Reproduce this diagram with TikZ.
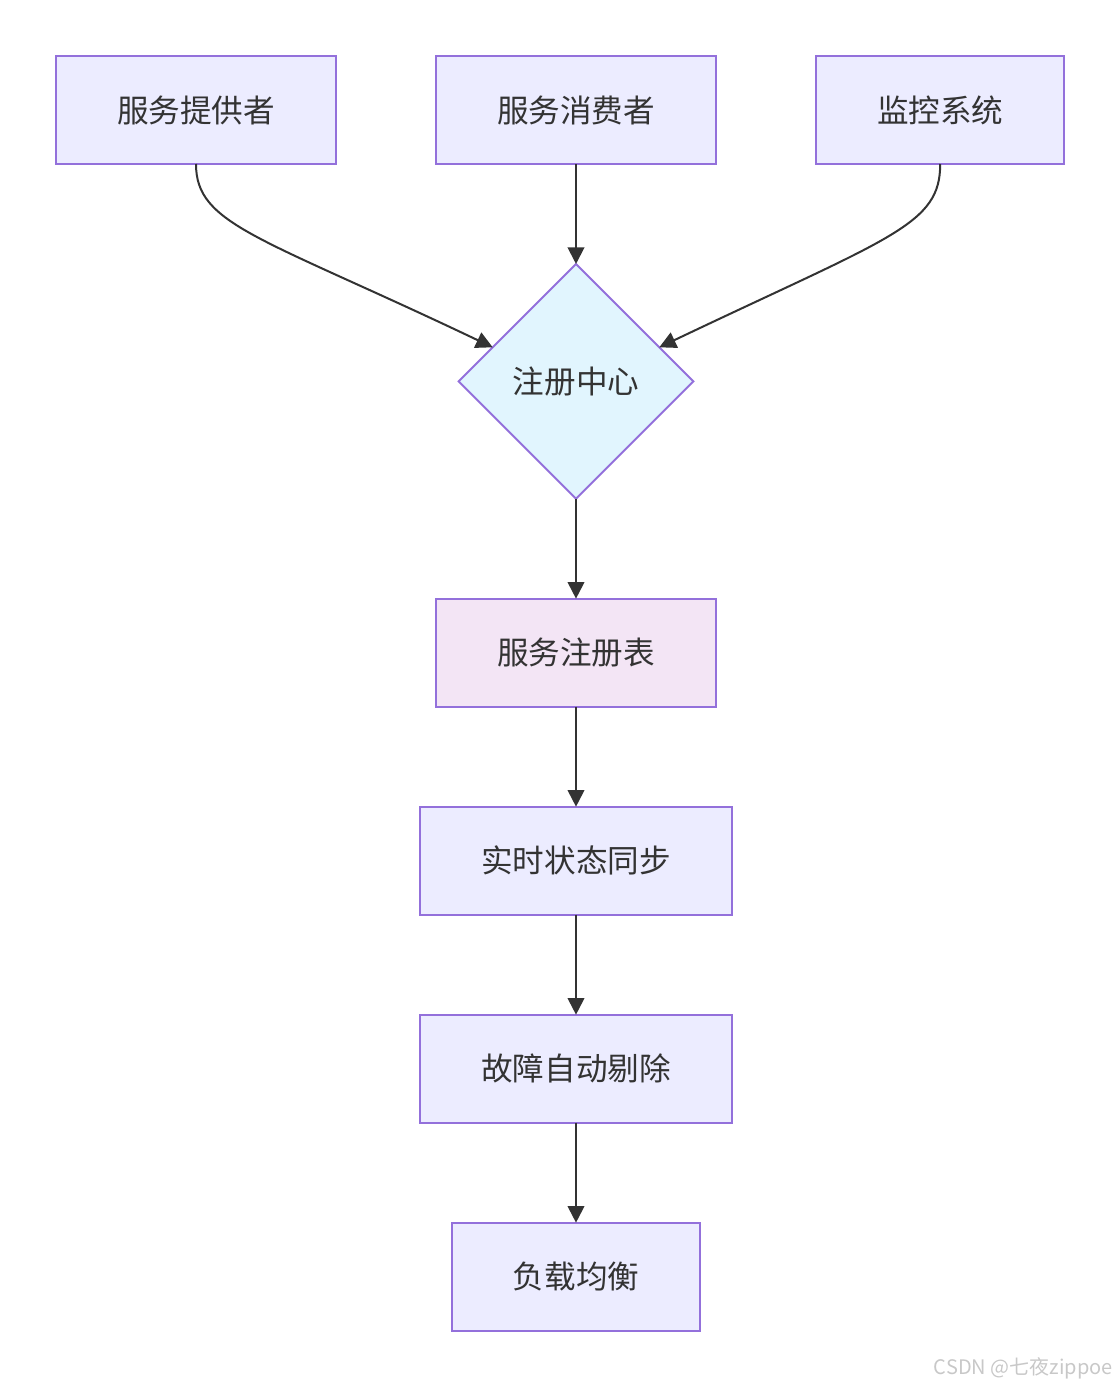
\documentclass[tikz,border=0pt]{standalone}
\usepackage{fontspec}
\setmainfont{Noto Sans CJK SC}
\usetikzlibrary{shapes.geometric,arrows.meta,positioning,calc}
\definecolor{lcbox}{HTML}{ECECFF}
\definecolor{lcline}{HTML}{9370DB}
\definecolor{lchub}{HTML}{E1F5FE}
\definecolor{lctbl}{HTML}{F3E5F5}
\definecolor{lcarrow}{HTML}{333333}
\definecolor{lcmark}{HTML}{C8C8C8}

\begin{document}
\begin{tikzpicture}[%
    >={Triangle[length=12.5pt,width=12.5pt]}, % filled arrow heads
    node distance=75pt and 75pt,              % spacing between boxes
    every join/.style={norm}]
% -------------------------------------------------
% Box styles
\tikzset{
  base/.style={draw=lcline, line width=1.5pt, align=center, text=lcarrow,
    outer sep=0pt, font={\fontsize{23.7}{28}\selectfont}},
  proc/.style={base, rectangle, fill=lcbox, minimum height=81pt, inner xsep=45.75pt},
  tbl/.style={proc, fill=lctbl},
  hub/.style={base, diamond, aspect=1, fill=lchub, minimum size=176pt, inner sep=0pt},
  % -------------------------------------------------
  % Connector line style
  norm/.style={->, draw=lcarrow, line width=1.5pt}
}
\useasboundingbox (0,0) rectangle (840pt,-1041pt);
% -------------------------------------------------
% Top row
\node [proc] (cons) at (432pt,-82.5pt) {服务消费者};
\node [proc, left=of cons] (prov) {服务提供者};
\node [proc, right=of cons] (mon) {监控系统};

% Middle column
\node [hub, below=of cons] (hub) {注册中心};
\node [tbl, below=of hub] (tbl) {服务注册表};
\node [proc, below=of tbl] (sync) {实时状态同步};
\node [proc, below=of sync] (evict) {故障自动剔除};
\node [proc, below=of evict] (lb) {负载均衡};

% watermark
\node [text=lcmark, font={\fontsize{15}{18}\selectfont}, anchor=east] (wm)
  at (838pt,-1026pt) {CSDN @七夜zippoe};

% -------------------------------------------------
% Straight connections
\draw [norm] (cons) -- (hub);
\draw [norm] (hub) -- (tbl);
\draw [norm] (tbl) -- (sync);
\draw [norm] (sync) -- (evict);
\draw [norm] (evict) -- (lb);

% Curved connections into the hub
\coordinate (hl) at ($(hub.west)!0.29!(hub.north)$);
\coordinate (hr) at ($(hub.east)!0.29!(hub.north)$);
\draw [norm] (prov.south) .. controls +(0,-45.75pt) and +(-174.75pt,83.25pt) .. (hl);
\draw [norm] (mon.south) .. controls +(0,-45.75pt) and +(174.75pt,83.25pt) .. (hr);
% -------------------------------------------------
\end{tikzpicture}
\end{document}
